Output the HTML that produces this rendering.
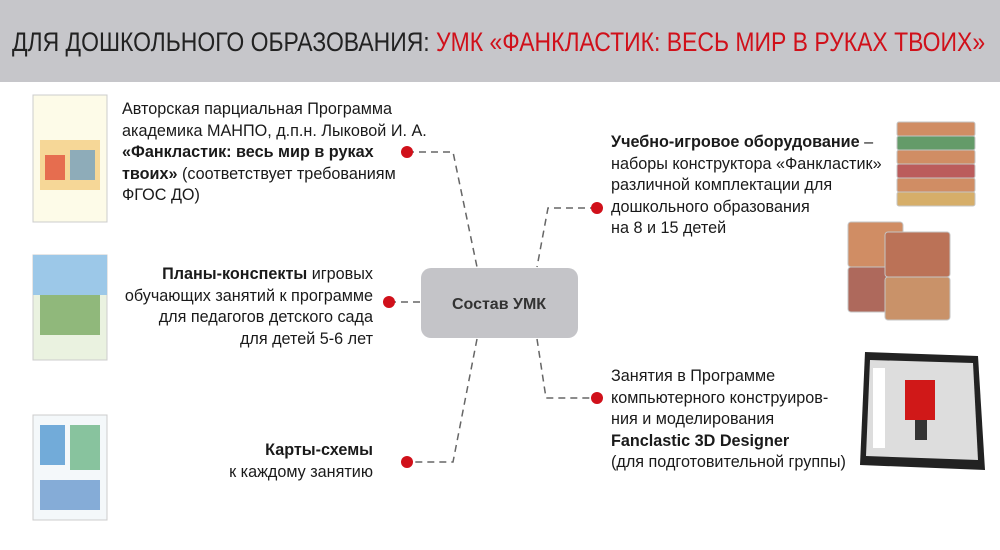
<!DOCTYPE html>
<html><head><meta charset="utf-8"><style>
body{margin:0;width:1000px;height:550px;background:#fff;position:relative;overflow:hidden;font-family:"Liberation Sans",sans-serif;color:#1a1a1a}
.hdr{position:absolute;left:0;top:0;width:1000px;height:82px;background:#c6c6ca}
.ttl{position:absolute;left:12px;top:27px;font-size:27px;white-space:nowrap;transform:scaleX(0.85);transform-origin:left top;color:#222}
.ttl span{color:#d0101a}
.t{position:absolute;font-size:16.2px;line-height:21.5px;white-space:nowrap}
.r{text-align:right}
</style></head><body>
<div class="hdr"></div>
<div class="ttl">ДЛЯ ДОШКОЛЬНОГО ОБРАЗОВАНИЯ: <span>УМК «ФАНКЛАСТИК: ВЕСЬ МИР В РУКАХ ТВОИХ»</span></div>
<svg width="1000" height="550" style="position:absolute;left:0;top:0">
<g stroke="#666" stroke-width="1.5" stroke-dasharray="7,5" fill="none">
<polyline points="407,152 453,152 477,267"/>
<polyline points="597,208 548,208 537,267"/>
<polyline points="389,302 421,302"/>
<polyline points="537,339 546,398 597,398"/>
<polyline points="477,339 453,462 407,462"/>
</g>
<rect x="421" y="268" width="157" height="70" rx="10" fill="#c4c4c8"/>
<text x="499" y="309" text-anchor="middle" font-family="Liberation Sans" font-weight="bold" font-size="16" fill="#333">Состав УМК</text>
<g fill="#d0101a"><circle cx="407" cy="152" r="6"/><circle cx="597" cy="208" r="6"/><circle cx="389" cy="302" r="6"/><circle cx="597" cy="398" r="6"/><circle cx="407" cy="462" r="6"/></g>
<rect x="33" y="95" width="74" height="127" fill="#fdfbe8" stroke="#ccc"/>
<rect x="40" y="140" width="60" height="50" fill="#f2c060" opacity=".6"/>
<rect x="45" y="155" width="20" height="25" fill="#e04030" opacity=".7"/>
<rect x="70" y="150" width="25" height="30" fill="#4a90d0" opacity=".6"/>
<rect x="33" y="255" width="74" height="105" fill="#eaf2e0" stroke="#ccc"/>
<rect x="33" y="255" width="74" height="40" fill="#9cc8e8"/>
<rect x="40" y="295" width="60" height="40" fill="#6aa050" opacity=".7"/>
<rect x="33" y="415" width="74" height="105" fill="#f4f8fa" stroke="#ccc"/>
<rect x="40" y="425" width="25" height="40" fill="#3a8acb" opacity=".7"/>
<rect x="70" y="425" width="30" height="45" fill="#40a060" opacity=".6"/>
<rect x="40" y="480" width="60" height="30" fill="#3a7ac0" opacity=".6"/>
<g stroke="#bbb" fill="#c87a4a" opacity=".85">
<rect x="897" y="122" width="78" height="14" rx="2"/><rect x="897" y="136" width="78" height="14" rx="2" fill="#4a8a50"/>
<rect x="897" y="150" width="78" height="14" rx="2"/><rect x="897" y="164" width="78" height="14" rx="2" fill="#b04040"/>
<rect x="897" y="178" width="78" height="14" rx="2"/><rect x="897" y="192" width="78" height="14" rx="2" fill="#d0a050"/>
<rect x="848" y="222" width="55" height="45" rx="3"/><rect x="848" y="267" width="55" height="45" rx="3" fill="#a05040"/>
<rect x="885" y="232" width="65" height="45" rx="3" fill="#b05a3a"/><rect x="885" y="277" width="65" height="43" rx="3" fill="#c08050"/>
</g>
<polygon points="865,352 978,356 985,470 860,465" fill="#222"/>
<polygon points="870,360 973,363 978,460 866,456" fill="#ddd"/>
<rect x="873" y="368" width="12" height="80" fill="#fff"/>
<rect x="905" y="380" width="30" height="40" fill="#d01818"/>
<rect x="915" y="420" width="12" height="20" fill="#333"/>
</svg>
<div class="t" style="left:122px;top:99px">Авторская парциальная Программа<br>академика МАНПО, д.п.н. Лыковой И. А.<br><b>«Фанкластик: весь мир в руках<br>твоих»</b> (соответствует требованиям<br>ФГОС ДО)</div>
<div class="t r" style="right:627px;top:264px"><b>Планы-конспекты</b> игровых<br>обучающих занятий к программе<br>для педагогов детского сада<br>для детей 5-6 лет</div>
<div class="t r" style="right:627px;top:440px"><b>Карты-схемы</b><br>к каждому занятию</div>
<div class="t" style="left:611px;top:132px"><b>Учебно-игровое оборудование</b> –<br>наборы конструктора «Фанкластик»<br>различной комплектации для<br>дошкольного образования<br>на 8 и 15 детей</div>
<div class="t" style="left:611px;top:366px">Занятия в Программе<br>компьютерного конструиров-<br>ния и моделирования<br><b>Fanclastic 3D Designer</b><br>(для подготовительной группы)</div>
</body></html>
